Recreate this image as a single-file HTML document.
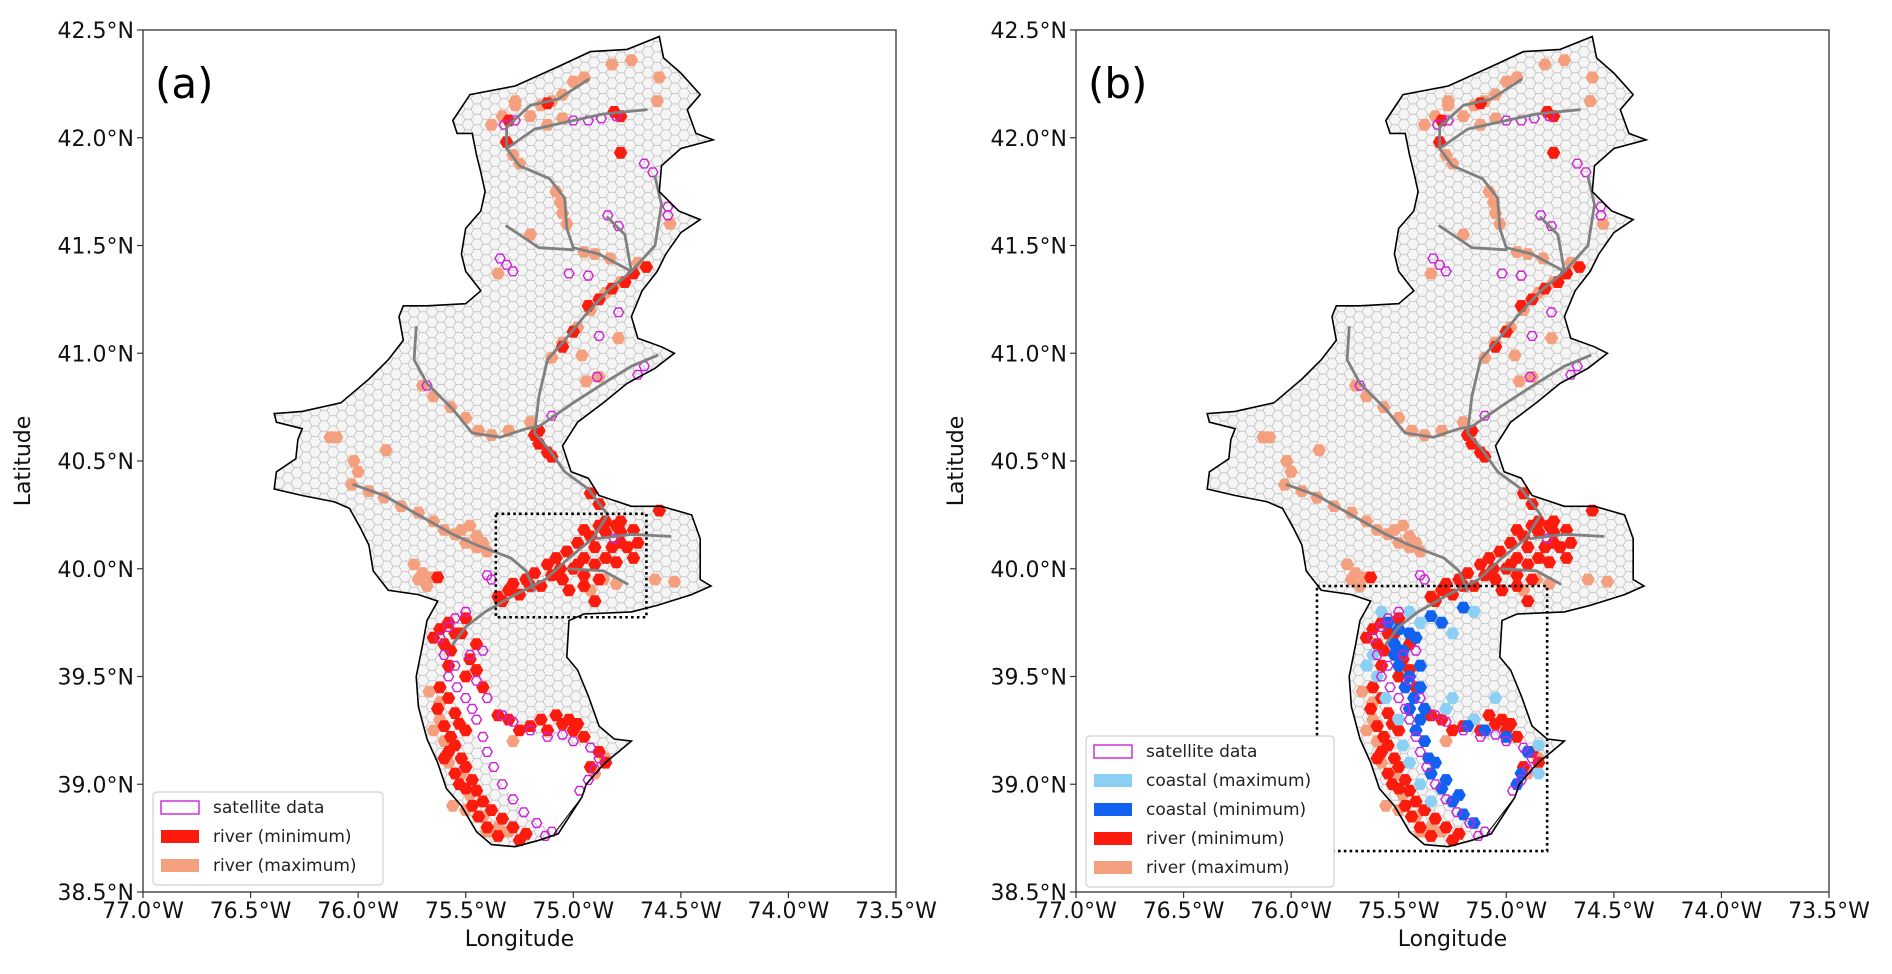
<!DOCTYPE html>
<html><head><meta charset="utf-8"><title>Flood maps (a) (b)</title>
<style>
html,body{margin:0;padding:0;background:#fff;}
svg{display:block;font-family:"DejaVu Sans","Liberation Sans",sans-serif;}
</style></head>
<body>
<svg id="fig" width="1892" height="974" viewBox="0 0 1892 974" xmlns="http://www.w3.org/2000/svg">
<defs>
<pattern id="hexpat" patternUnits="userSpaceOnUse" width="18" height="10.392">
<rect width="18" height="10.392" fill="#f5f5f5"/>
<path d="M6,0 L3,5.196 L-3,5.196 L-6,0 L-3,-5.196 L3,-5.196Z M24,0 L21,5.196 L15,5.196 L12,0 L15,-5.196 L21,-5.196Z M6,10.392 L3,15.588 L-3,15.588 L-6,10.392 L-3,5.196 L3,5.196Z M24,10.392 L21,15.588 L15,15.588 L12,10.392 L15,5.196 L21,5.196Z M15,5.196 L12,10.392 L6,10.392 L3,5.196 L6,0 L12,0Z" fill="none" stroke="#b9b9b9" stroke-width="0.7"/>
</pattern>
</defs>
</svg>
<script>
// ---------- data (lon/lat) ----------
const lonTicks = [-77.0,-76.5,-76.0,-75.5,-75.0,-74.5,-74.0,-73.5];
const latTicks = [42.5,42.0,41.5,41.0,40.5,40.0,39.5,39.0,38.5];
const lonLabels = ["77.0°W","76.5°W","76.0°W","75.5°W","75.0°W","74.5°W","74.0°W","73.5°W"];
const latLabels = ["42.5°N","42.0°N","41.5°N","41.0°N","40.5°N","40.0°N","39.5°N","39.0°N","38.5°N"];

const basinOutline = [[-75.56,42.08],[-75.48,42.20],[-75.27,42.24],[-75.07,42.33],[-74.92,42.40],[-74.75,42.41],[-74.60,42.47],[-74.58,42.37],[-74.50,42.30],[-74.41,42.20],[-74.47,42.13],[-74.43,42.02],[-74.35,41.99],[-74.50,41.95],[-74.59,41.87],[-74.60,41.75],[-74.51,41.66],[-74.41,41.62],[-74.50,41.56],[-74.57,41.46],[-74.61,41.38],[-74.68,41.29],[-74.73,41.17],[-74.70,41.07],[-74.59,41.03],[-74.53,41.00],[-74.62,40.93],[-74.75,40.86],[-74.86,40.77],[-74.98,40.68],[-75.05,40.57],[-75.01,40.45],[-74.93,40.42],[-74.88,40.34],[-74.73,40.29],[-74.59,40.29],[-74.45,40.25],[-74.41,40.14],[-74.41,39.95],[-74.36,39.92],[-74.45,39.88],[-74.61,39.83],[-74.73,39.80],[-74.95,39.79],[-75.02,39.76],[-75.03,39.59],[-74.98,39.53],[-74.93,39.41],[-74.88,39.27],[-74.81,39.21],[-74.73,39.20],[-74.79,39.15],[-74.84,39.11],[-74.88,39.07],[-74.94,39.00],[-74.96,38.94],[-75.07,38.77],[-75.16,38.74],[-75.27,38.71],[-75.38,38.72],[-75.45,38.78],[-75.52,38.90],[-75.59,38.98],[-75.63,39.10],[-75.68,39.21],[-75.72,39.36],[-75.73,39.50],[-75.70,39.65],[-75.68,39.76],[-75.63,39.85],[-75.72,39.88],[-75.86,39.90],[-75.93,39.99],[-75.95,40.11],[-75.99,40.19],[-76.04,40.28],[-76.11,40.31],[-76.26,40.34],[-76.39,40.37],[-76.38,40.45],[-76.29,40.51],[-76.28,40.60],[-76.26,40.65],[-76.38,40.68],[-76.39,40.72],[-76.26,40.73],[-76.08,40.77],[-75.95,40.88],[-75.86,40.97],[-75.79,41.06],[-75.81,41.17],[-75.79,41.22],[-75.68,41.22],[-75.50,41.23],[-75.43,41.29],[-75.50,41.38],[-75.52,41.46],[-75.50,41.58],[-75.43,41.66],[-75.41,41.75],[-75.43,41.84],[-75.45,41.92],[-75.47,42.02],[-75.54,42.02]];

const bayOutline = [[-75.57,39.63],[-75.60,39.47],[-75.52,39.33],[-75.43,39.18],[-75.34,39.01],[-75.22,38.87],[-75.09,38.77],[-74.96,38.94],[-74.88,39.07],[-74.93,39.17],[-75.07,39.20],[-75.18,39.23],[-75.29,39.30],[-75.41,39.41],[-75.50,39.53],[-75.53,39.64]];

const rivers = [
 [[-74.93,42.27],[-75.07,42.18],[-75.20,42.15],[-75.31,42.05],[-75.31,41.95]],
 [[-74.66,42.13],[-74.86,42.11],[-75.00,42.08],[-75.18,42.04],[-75.31,41.95]],
 [[-75.31,41.95],[-75.25,41.87],[-75.11,41.81],[-75.04,41.72],[-75.03,41.58],[-75.00,41.49],[-74.88,41.46],[-74.73,41.38]],
 [[-74.73,41.38],[-74.84,41.29],[-74.95,41.17],[-75.04,41.06],[-75.12,40.97],[-75.16,40.80],[-75.18,40.63],[-75.11,40.55],[-75.04,40.45],[-74.93,40.37],[-74.84,40.25],[-74.91,40.14],[-75.02,40.05],[-75.13,39.95],[-75.27,39.88],[-75.41,39.80],[-75.50,39.73],[-75.56,39.65]],
 [[-75.31,41.59],[-75.22,41.53],[-75.16,41.49],[-75.00,41.48]],
 [[-74.84,41.63],[-74.76,41.55],[-74.73,41.38]],
 [[-74.62,41.82],[-74.59,41.69],[-74.62,41.50],[-74.73,41.38]],
 [[-75.73,41.12],[-75.74,40.97],[-75.68,40.86],[-75.56,40.74],[-75.47,40.63],[-75.34,40.61],[-75.22,40.65],[-75.16,40.66]],
 [[-75.16,40.66],[-75.00,40.77],[-74.86,40.86],[-74.73,40.94],[-74.61,40.99]],
 [[-76.02,40.39],[-75.88,40.34],[-75.72,40.25],[-75.56,40.16],[-75.45,40.11],[-75.29,40.05],[-75.22,39.99],[-75.18,39.90]],
 [[-74.55,40.15],[-74.73,40.16],[-74.89,40.14]],
 [[-74.75,39.93],[-74.86,39.99],[-75.02,40.00]]
];

const riverMax = [[-75.38,42.06],[-75.33,42.10],[-75.27,42.15],[-75.15,42.15],[-75.10,42.17],[-75.05,42.20],[-75.00,42.26],[-74.95,42.28],[-75.20,42.10],[-75.12,42.06],[-75.05,42.09],[-74.82,42.34],[-74.73,42.36],[-74.60,42.28],[-74.61,42.17],[-75.27,42.17],
[-75.28,41.92],[-75.25,41.88],[-75.08,41.75],[-75.06,41.70],[-75.05,41.65],[-75.03,41.60],[-75.20,41.55],[-74.95,41.47],[-74.90,41.46],[-74.83,41.44],[-75.35,41.37],[-74.55,41.60],
[-74.70,41.42],[-74.78,41.33],[-74.85,41.28],[-74.92,41.20],[-74.98,41.12],[-75.05,41.05],[-75.10,40.98],[-74.96,40.99],[-74.79,41.07],[-74.88,40.89],[-74.94,40.87],
[-75.70,40.85],[-75.65,40.80],[-75.57,40.75],[-75.50,40.70],[-75.44,40.64],[-75.38,40.62],[-75.30,40.64],[-75.20,40.68],
[-76.13,40.61],[-76.10,40.61],[-75.87,40.55],[-76.02,40.50],[-76.00,40.45],[-76.03,40.39],[-75.95,40.36],
[-75.88,40.33],[-75.80,40.29],[-75.72,40.26],[-75.65,40.22],[-75.60,40.18],[-75.55,40.16],[-75.48,40.20],[-75.45,40.15],[-75.50,40.12],[-75.45,40.10],[-75.40,40.08],[-75.52,40.18],[-75.42,40.12],
[-75.74,40.02],[-75.70,39.98],[-75.66,39.96],[-75.72,39.95],[-75.68,39.92],
[-74.86,39.95],[-74.62,39.95],[-74.53,39.94],[-74.92,39.90],[-74.80,39.93],
[-75.67,39.43],[-75.62,39.30],[-75.60,39.20],[-75.58,39.10],[-75.52,39.05],[-75.48,38.95],[-75.42,38.85],[-75.35,38.80],[-75.30,38.78],[-75.28,39.20],[-74.90,39.05],[-74.85,39.12],[-75.56,38.90],[-75.65,39.25],[-75.62,39.38],[-75.50,38.88],[-75.40,38.78]];

const riverMin = [[-75.30,42.08],[-75.12,42.16],[-74.78,42.10],[-74.81,42.12],[-74.78,41.93],[-75.31,41.98],
[-74.66,41.40],[-74.72,41.37],[-74.76,41.33],[-74.82,41.30],[-74.88,41.25],[-74.93,41.22],[-75.00,41.10],[-75.05,41.03],[-75.18,40.62],[-75.16,40.58],[-75.12,40.54],[-75.10,40.52],[-75.16,40.64],[-74.92,40.35],[-74.88,40.30],[-74.60,40.27],
[-74.85,40.22],[-74.80,40.20],[-74.78,40.17],[-74.85,40.17],[-74.92,40.15],[-74.98,40.12],[-74.90,40.10],[-74.75,40.10],[-74.70,40.12],[-74.72,40.05],[-74.80,40.03],[-74.85,40.05],[-75.03,40.08],[-75.08,40.05],[-75.12,40.02],[-75.18,39.98],[-75.22,39.95],[-75.28,39.93],[-75.30,39.90],[-75.25,39.88],[-75.10,39.97],[-75.05,39.95],[-74.95,39.97],[-74.88,39.95],[-75.02,39.90],[-75.00,40.00],[-74.95,40.05],[-74.90,39.85],[-75.63,39.96],
[-74.95,40.18],[-74.88,40.20],[-74.78,40.22],[-74.72,40.18],[-74.95,39.92],[-75.15,39.92],[-75.20,39.92],[-75.35,39.87],[-74.98,40.02],[-74.82,40.10],[-75.06,40.00],[-75.33,39.85],[-74.78,40.12],[-74.90,40.02],
[-75.62,39.72],[-75.58,39.75],[-75.50,39.77],[-75.55,39.70],[-75.65,39.68],[-75.45,39.65],[-75.48,39.58],[-75.45,39.53],[-75.50,39.50],[-75.42,39.45],[-75.63,39.35],[-75.60,39.27],[-75.57,39.22],[-75.55,39.18],[-75.52,39.12],[-75.50,39.08],[-75.47,39.02],[-75.45,38.97],[-75.42,38.92],[-75.38,38.88],[-75.33,38.84],[-75.28,38.80],[-75.22,38.77],[-75.58,39.15],[-75.55,39.05],[-75.50,38.98],[-75.44,38.85],
[-75.60,39.65],[-75.57,39.62],[-75.52,39.70],[-75.58,39.55],[-75.62,39.45],[-75.58,39.40],[-75.55,39.33],[-75.60,39.12],[-75.53,39.00],[-75.47,38.90],[-75.40,38.80],[-75.35,38.76],[-75.25,38.74],[-75.50,39.25],[-75.53,39.28],
[-75.08,39.32],[-75.05,39.28],[-75.12,39.25],[-75.00,39.25],[-74.95,39.22],[-75.20,39.27],[-75.25,39.25],[-74.88,39.15],[-74.85,39.10],[-74.92,39.08],[-75.30,39.30],[-75.15,39.30],[-75.02,39.30],[-74.98,39.28],[-75.35,39.32]];

const satellite = [[-75.32,42.06],[-75.27,42.08],[-75.00,42.08],[-74.93,42.08],[-74.87,42.09],[-74.80,42.10],
[-74.67,41.88],[-74.63,41.84],[-74.56,41.68],[-74.56,41.64],[-74.84,41.64],[-74.79,41.59],[-75.02,41.37],[-74.93,41.36],[-74.79,41.19],[-74.88,41.08],[-74.67,40.94],[-74.70,40.90],[-74.89,40.89],[-75.10,40.71],[-75.68,40.85],[-75.40,39.97],[-75.38,39.95],[-74.81,40.14],[-75.34,41.44],[-75.31,41.41],[-75.28,41.38],
[-75.50,39.80],[-75.55,39.77],[-75.58,39.73],[-75.62,39.68],[-75.60,39.60],[-75.55,39.55],[-75.58,39.50],[-75.54,39.45],[-75.50,39.40],[-75.47,39.35],[-75.45,39.30],[-75.42,39.22],[-75.40,39.15],[-75.37,39.08],[-75.33,39.00],[-75.28,38.93],[-75.23,38.87],[-75.17,38.82],[-75.10,38.78],[-75.13,38.76],
[-75.40,39.40],[-75.33,39.32],[-75.28,39.29],[-75.20,39.25],[-75.12,39.22],[-75.05,39.23],[-75.00,39.20],[-74.92,39.17],[-74.88,39.12],[-74.90,39.07],[-74.93,39.02],[-74.97,38.97],[-75.45,39.48],[-75.48,39.60],[-75.42,39.62]];

const coastalMin = [[-75.55,39.75],[-75.50,39.72],[-75.52,39.65],[-75.48,39.62],[-75.50,39.55],[-75.45,39.50],[-75.47,39.45],[-75.43,39.40],[-75.45,39.35],[-75.40,39.30],[-75.42,39.25],[-75.38,39.20],[-75.36,39.12],[-75.35,39.05],[-75.30,38.98],[-75.25,38.92],[-75.20,38.86],[-75.15,38.82],[-75.40,39.55],[-75.52,39.60],[-75.38,39.35],[-75.18,39.27],[-75.10,39.25],[-75.00,39.22],[-74.90,39.15],[-74.93,39.05],[-74.95,39.00],[-75.30,39.75],[-75.35,39.78],[-75.20,39.82],[-75.45,39.70],[-75.42,39.68],[-75.40,39.45],[-75.33,39.10],[-75.28,39.02],[-75.22,38.95]];
const coastalMax = [[-75.58,39.80],[-75.45,39.80],[-75.40,39.75],[-75.62,39.60],[-75.56,39.40],[-75.50,39.30],[-75.48,39.18],[-75.45,39.10],[-75.40,39.00],[-75.35,38.92],[-75.28,39.35],[-75.25,39.40],[-75.15,39.30],[-74.85,39.18],[-74.85,39.05],[-75.05,39.40],[-75.60,39.50],[-75.65,39.55],[-75.15,39.80],[-75.25,39.70]];

const boxA = [-75.36,-74.66,39.775,40.255];
const boxB = [-75.88,-74.81,38.69,39.92];

// ---------- drawing ----------
const NS = "http://www.w3.org/2000/svg";
const svg = document.getElementById('fig');
const PX = [143,1076], PY = 30, PW = 753, PH = 862;
function xs(p,lon){return PX[p] + (lon+77)/3.5*PW;}
function ys(lat){return PY + (42.5-lat)/4*PH;}
function mk(tag,attrs,parent){const e=document.createElementNS(NS,tag);for(const k in attrs)e.setAttribute(k,attrs[k]);(parent||svg).appendChild(e);return e;}
function polyPts(p,arr){return arr.map(d=>xs(p,d[0]).toFixed(1)+','+ys(d[1]).toFixed(1)).join(' ');}
function hexPts(cx,cy,r){const h=r*0.866;return [[cx+r,cy],[cx+r/2,cy+h],[cx-r/2,cy+h],[cx-r,cy],[cx-r/2,cy-h],[cx+r/2,cy-h]].map(q=>q[0].toFixed(1)+','+q[1].toFixed(1)).join(' ');}

function drawHexes(p,g,arr,name,fill,stroke){
  arr.forEach(d=>{
    const h=mk('polygon',{points:hexPts(xs(p,d[0]),ys(d[1]),stroke?5:6.8),fill:fill,stroke:stroke||'none','stroke-width':stroke?1.4:0},g);
    
    
  });
}

function panel(p){
  const tag = p===0?'a':'b';
  const g = mk('g',{});
  
  
  const defs = svg.querySelector('defs');
  const cp = mk('clipPath',{id:'clip'+tag},defs);
  mk('polygon',{points:polyPts(p,basinOutline)},cp);
  const basin = mk('rect',{x:PX[p],y:PY,width:PW,height:PH,fill:'url(#hexpat)','clip-path':'url(#clip'+tag+')'},g);
  
  
  const bay = mk('polygon',{points:polyPts(p,bayOutline),fill:'#ffffff',stroke:'none'},g);
  
  
  const gm = mk('g',{},g);
  
  
  drawHexes(p,gm,riverMax,'river-max-cell','#f4a07e');
  drawHexes(p,gm,riverMin,'river-min-cell','#fb1c0e');
  if(p===1){
    drawHexes(p,gm,coastalMax,'coastal-max-cell','#8ccff5');
    drawHexes(p,gm,coastalMin,'coastal-min-cell','#1262f2');
  }
  rivers.forEach(r=>{
    const l=mk('polyline',{points:polyPts(p,r),fill:'none',stroke:'#808080','stroke-width':2.8,'stroke-linejoin':'round','stroke-linecap':'round'},g);
    
    
  });
  drawHexes(p,gm,satellite,'satellite-cell','none','#cc22d6');
  mk('polyline',{points:polyPts(p,[[-74.96,38.94],[-75.09,38.77]]),fill:'none',stroke:'#000','stroke-width':1},g);
  const ol = mk('polygon',{points:polyPts(p,basinOutline),fill:'none',stroke:'#000','stroke-width':1.6},g);
  
  
  const bx = p===0?boxA:boxB;
  const db = mk('rect',{x:xs(p,bx[0]),y:ys(bx[3]),width:xs(p,bx[1])-xs(p,bx[0]),height:ys(bx[2])-ys(bx[3]),fill:'none',stroke:'#000','stroke-width':2.6,'stroke-dasharray':'2.6,3.2'},g);
  
  
  const fr = mk('rect',{x:PX[p],y:PY,width:PW,height:PH,fill:'none',stroke:'#333','stroke-width':1.3},g);
  
  
  lonTicks.forEach((v,i)=>{
    const x=xs(p,v);
    mk('line',{x1:x,x2:x,y1:PY+PH,y2:PY+PH+6,stroke:'#333','stroke-width':1.2},g);
    const t=mk('text',{x:x,y:PY+PH+26,'text-anchor':'middle','font-size':22,fill:'#111'},g);
    t.textContent=lonLabels[i];
    
    
  });
  latTicks.forEach((v,i)=>{
    const y=ys(v);
    mk('line',{x1:PX[p]-6,x2:PX[p],y1:y,y2:y,stroke:'#333','stroke-width':1.2},g);
    const t=mk('text',{x:PX[p]-9,y:y+8,'text-anchor':'end','font-size':22,fill:'#111'},g);
    t.textContent=latLabels[i];
    
    
  });
  const xt=mk('text',{x:PX[p]+PW/2,y:946,'text-anchor':'middle','font-size':22,fill:'#111'},g);
  xt.textContent='Longitude';
  
  
  const yx=PX[p]-113;
  const yt=mk('text',{x:yx,y:PY+PH/2,'text-anchor':'middle','font-size':22,fill:'#111',transform:'rotate(-90 '+yx+' '+(PY+PH/2)+')'},g);
  yt.textContent='Latitude';
  
  
  const pl=mk('text',{x:PX[p]+12,y:98,'font-size':42,fill:'#000'},g);
  pl.textContent='('+tag+')';
  
  
  const entries = p===0
    ? [['satellite data','none','#cc22d6'],['river (minimum)','#fb1c0e'],['river (maximum)','#f4a07e']]
    : [['satellite data','none','#cc22d6'],['coastal (maximum)','#8ccff5'],['coastal (minimum)','#1262f2'],['river (minimum)','#fb1c0e'],['river (maximum)','#f4a07e']];
  const lg = mk('g',{},g);
  
  
  const lx = p===0?153:1086, ly = p===0?792:736, lw = p===0?230:248, step = 29;
  mk('rect',{x:lx,y:ly,width:lw,height:entries.length*step+6,rx:4,fill:'#fff',stroke:'#d0d0d0','stroke-width':1.2},lg);
  entries.forEach((e,i)=>{
    const cy = ly+15+i*step;
    const it = mk('g',{},lg);
    
    
    mk('rect',{x:lx+8,y:cy-6,width:38,height:13,fill:e[1],stroke:e[2]||'none','stroke-width':e[2]?1.4:0},it);
    const t=mk('text',{x:lx+60,y:cy+6,'font-size':17,fill:'#222'},it);
    t.textContent=e[0];
  });
}
panel(0);
panel(1);
</script>
</body></html>
